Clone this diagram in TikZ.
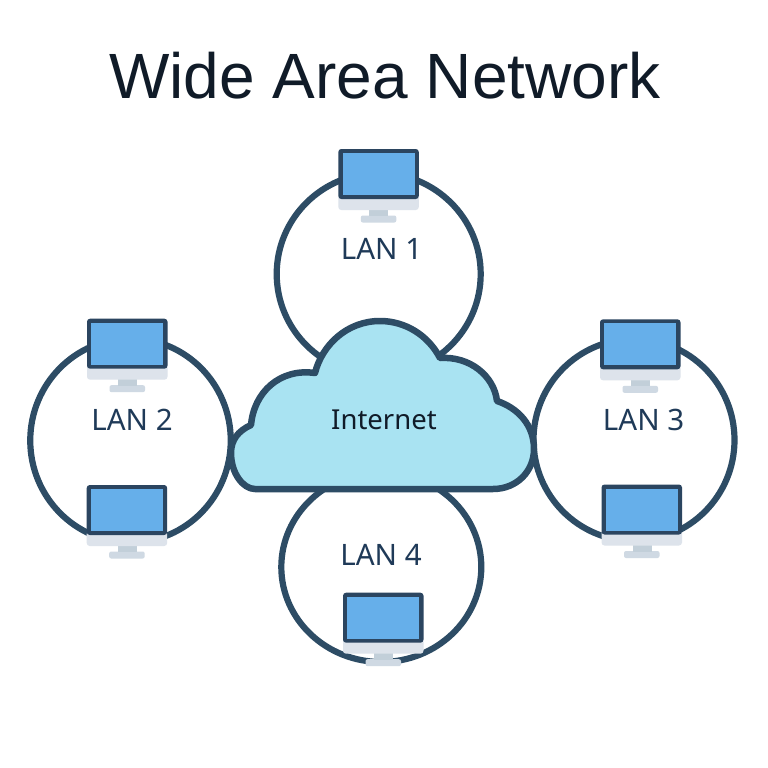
\documentclass[tikz,border=0pt]{standalone}
\usepackage{fontspec}
\usetikzlibrary{shapes.geometric}
\setmainfont{Noto Sans}
\newfontfamily\titlefont{Liberation Sans}
\definecolor{ringc}{HTML}{2D4C65}
\definecolor{cloudc}{HTML}{A9E3F2}
\definecolor{screenc}{HTML}{66AFEA}
\definecolor{framec}{HTML}{2B4560}
\definecolor{basec}{HTML}{DDE3EB}
\definecolor{neckc}{HTML}{C2CFD9}
\definecolor{footc}{HTML}{CFD9E3}
\definecolor{titlec}{HTML}{101B28}
\definecolor{lanc}{HTML}{1F3A58}
\tikzset{
  ring/.style={ellipse,draw=ringc,line width=6.2pt,inner sep=0pt,outer sep=0pt},
  lanlabel/.style={text=lanc,font=\fontsize{29.5}{32}\selectfont,inner sep=0pt},
}
\newcommand{\monitor}[2]{%
  \begin{scope}[shift={(#1,#2)}]
    \fill[footc,rounded corners=2pt] (22.5,66.5) rectangle (58,73.5);
    \fill[neckc] (31,60) rectangle (50,67);
    \fill[basec,rounded corners=3pt] (0,46) rectangle (80.5,61);
    \fill[framec,rounded corners=3pt] (0,0) rectangle (80.5,50);
    \fill[screenc] (4.3,4) rectangle (76.2,46);
  \end{scope}}
\begin{document}
\begin{tikzpicture}[x=1pt,y=-1pt]
\useasboundingbox (0,0) rectangle (768,768);
\fill[white] (0,0) rectangle (768,768);
\node[text=titlec,font=\titlefont\fontsize{64}{70}\selectfont,inner sep=0pt] (title) at (385,75.5) {Wide Area Network};
\node[ring,minimum width=204pt,minimum height=202pt] (lan1) at (378.7,274) {};
\node[ring,minimum width=200.5pt,minimum height=204pt] (lan2) at (130.5,440.5) {};
\node[ring,minimum width=201pt,minimum height=202pt] (lan3) at (634,440) {};
\node[ring,minimum width=200pt,minimum height=190pt] (lan4) at (381.3,567) {};
\monitor{338.3}{149}
\monitor{87}{318.7}
\monitor{86.7}{485}
\monitor{600}{319.3}
\monitor{601.5}{484.5}
\monitor{343}{592.7}
\draw[ringc,line width=6.5pt,fill=cloudc,line join=round]
  (255,489) -- (493,489)
  .. controls (517,489) and (534,471) .. (534,449)
  .. controls (534,425) and (518,408) .. (497,401)
  .. controls (494,376) and (470,356) .. (440,358)
  .. controls (428,335) and (405,321) .. (380,321)
  .. controls (347,321) and (322,345) .. (315,373)
  .. controls (280,368) and (254,392) .. (251,425)
  .. controls (238,431) and (231,440) .. (231,453)
  .. controls (231,473) and (243,489) .. (255,489) -- cycle;
\node[text=titlec,font=\fontsize{27.5}{30}\selectfont,inner sep=0pt] (internet) at (384,420) {Internet};
\node[lanlabel] (l1) at (381.5,248.5) {LAN 1};
\node[lanlabel] (l2) at (132,420) {LAN 2};
\node[lanlabel] (l3) at (643.6,420) {LAN 3};
\node[lanlabel] (l4) at (381,554.5) {LAN 4};
\end{tikzpicture}
\end{document}
